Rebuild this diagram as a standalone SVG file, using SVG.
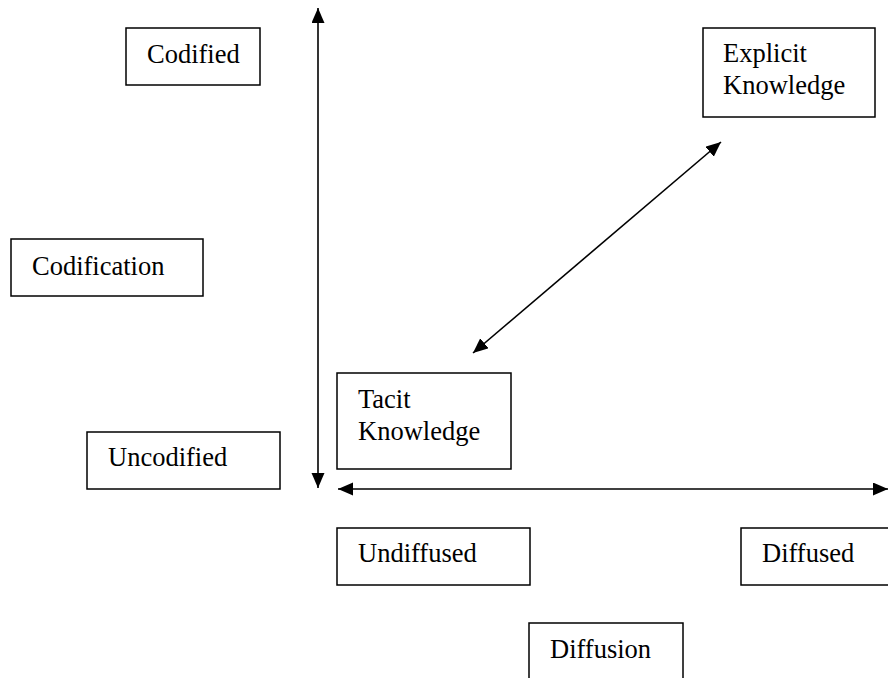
<svg xmlns="http://www.w3.org/2000/svg" width="888" height="678" viewBox="0 0 888 678">
  <style>
    .box { fill: #ffffff; stroke: #000000; stroke-width: 1.5; }
    .lbl { font-family: "Liberation Serif", "Times New Roman", serif; font-size: 26.5px; fill: #000000; }
    .conn { stroke: #000000; stroke-width: 1.6; fill: none; marker-start: url(#head); marker-end: url(#head); }
  </style>
  <defs>
    <marker id="head" markerUnits="userSpaceOnUse" markerWidth="16" markerHeight="14" refX="15" refY="6.5" orient="auto-start-reverse">
      <path d="M0,0 L15,6.5 L0,13 z" fill="#000000"/>
    </marker>
  </defs>

  <rect width="888" height="678" fill="#ffffff"/>

  <!-- axes and the tacit/explicit conversion arrow -->
  <g id="connectors">
    <line class="conn" x1="318" y1="8" x2="318" y2="488"/>
    <line class="conn" x1="338" y1="489" x2="888" y2="489"/>
    <line class="conn" x1="473" y1="353" x2="721" y2="142"/>
  </g>

  <g id="codified">
    <rect class="box" x="126" y="28" width="134" height="57"/>
    <text class="lbl" x="147" y="63">Codified</text>
  </g>

  <g id="explicit-knowledge">
    <rect class="box" x="703" y="28" width="172" height="89"/>
    <text class="lbl" x="723" y="62">Explicit</text>
    <text class="lbl" x="723" y="94">Knowledge</text>
  </g>

  <g id="codification">
    <rect class="box" x="11" y="239" width="192" height="57"/>
    <text class="lbl" x="32" y="275">Codification</text>
  </g>

  <g id="tacit-knowledge">
    <rect class="box" x="337" y="373" width="174" height="96"/>
    <text class="lbl" x="358" y="408">Tacit</text>
    <text class="lbl" x="358" y="440">Knowledge</text>
  </g>

  <g id="uncodified">
    <rect class="box" x="87" y="432" width="193" height="57"/>
    <text class="lbl" x="108" y="466">Uncodified</text>
  </g>

  <g id="undiffused">
    <rect class="box" x="337" y="528" width="193" height="57"/>
    <text class="lbl" x="358" y="562">Undiffused</text>
  </g>

  <g id="diffused">
    <rect class="box" x="741" y="528" width="160" height="57"/>
    <text class="lbl" x="762" y="562">Diffused</text>
  </g>

  <g id="diffusion">
    <rect class="box" x="529" y="623" width="154" height="70"/>
    <text class="lbl" x="550" y="658">Diffusion</text>
  </g>
</svg>
